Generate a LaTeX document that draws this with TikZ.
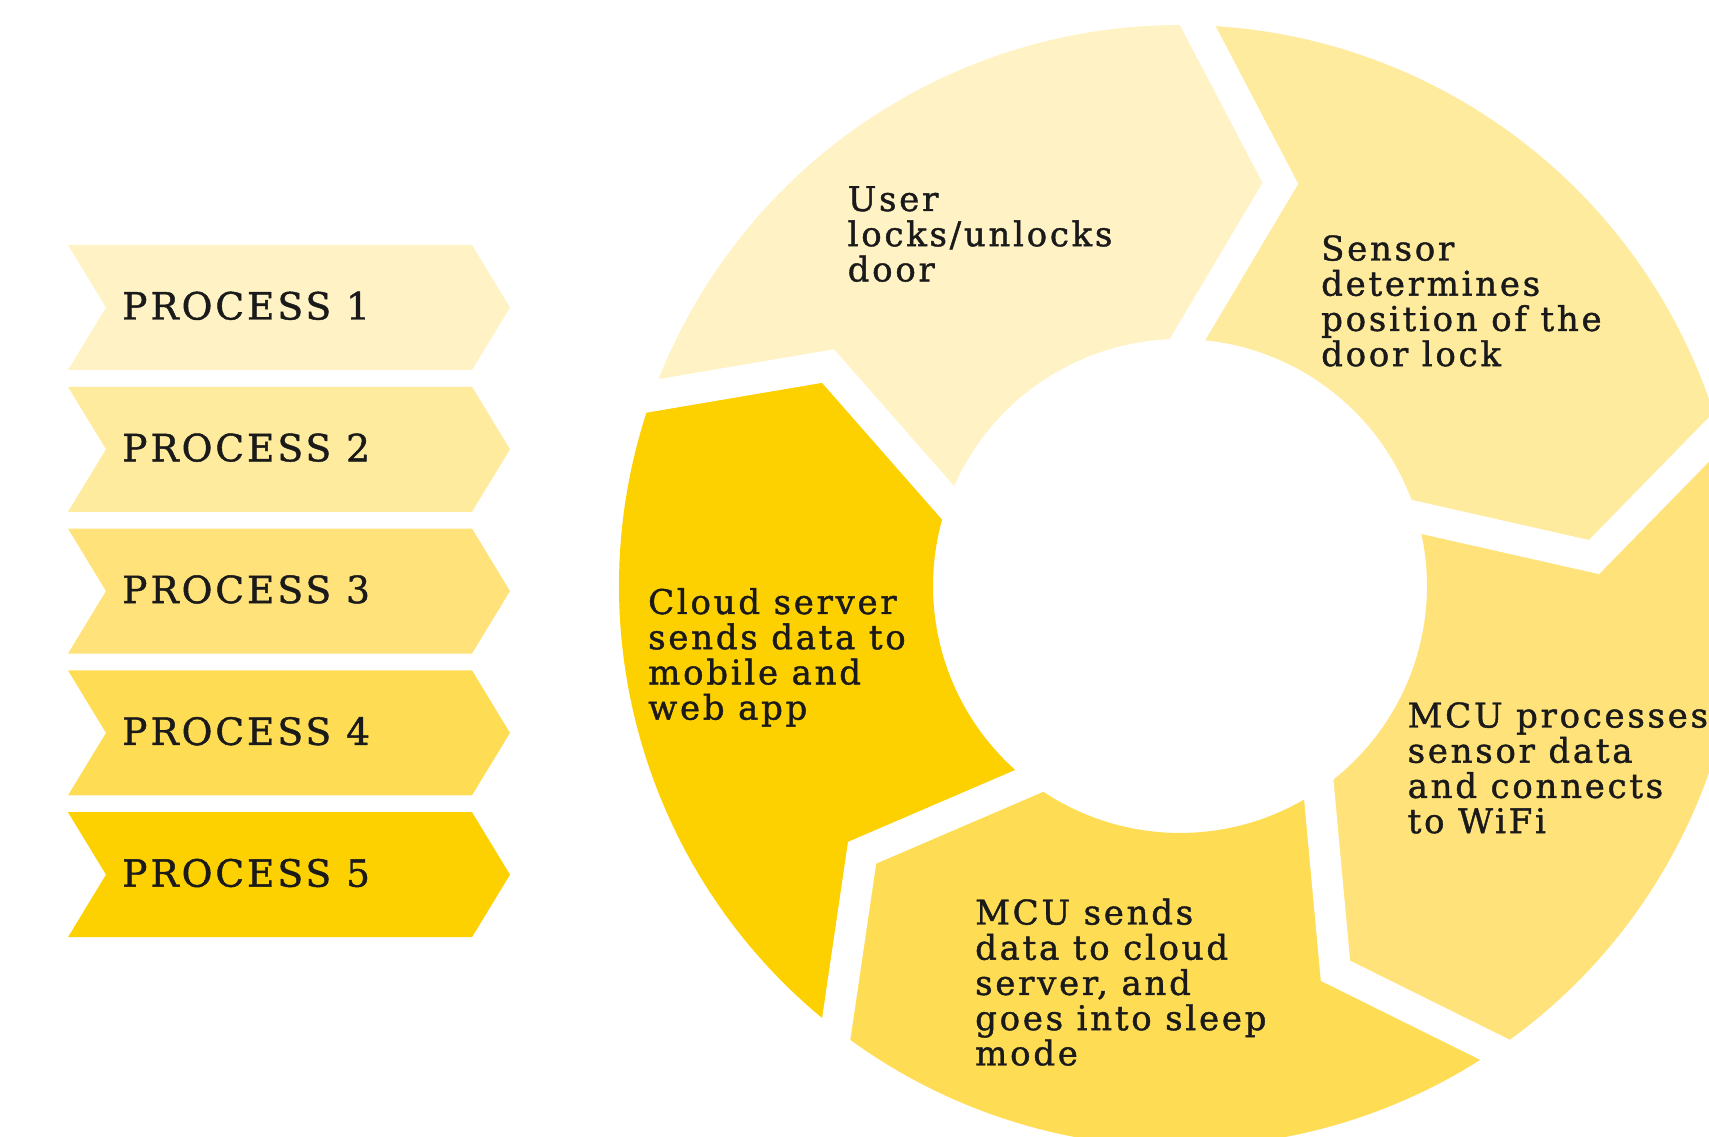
\documentclass[tikz,border=0pt]{standalone}
\usepackage{fontspec}
\newfontfamily\slab[LetterSpace=8,FakeBold=1.2]{DejaVu Serif}
\definecolor{cA}{HTML}{FFF3C6}
\definecolor{cB}{HTML}{FFEB9E}
\definecolor{cC}{HTML}{FFE37A}
\definecolor{cD}{HTML}{FEDD55}
\definecolor{cE}{HTML}{FDD000}
\definecolor{txt}{HTML}{1A1A1A}
\begin{document}
\begin{tikzpicture}[x=1pt,y=1pt,
  lbl/.style={inner sep=0pt, anchor=base west, align=left, text=txt,
    font=\slab\fontsize{34}{35.2}\selectfont},
  plbl/.style={inner sep=0pt, anchor=base west, text=txt,
    font=\slab\fontsize{37.5}{40}\selectfont},
  gap/.style={white, line width=31pt, line cap=rect, line join=miter}]
\useasboundingbox (0,0) rectangle (1709,1137);
\clip (0,0) rectangle (1709,1137);
\fill[white] (0,0) rectangle (1709,1137);

% left banners
\foreach \k/\c in {0/cA,1/cB,2/cC,3/cD,4/cE}{
  \pgfmathsetmacro\T{1137-245-141.8*\k}
  \fill[\c] (68,\T) -- (472,\T) -- (510,\T-62.5) -- (472,\T-125) -- (68,\T-125) -- (106,\T-62.5) -- cycle;
}
\foreach \k in {0,...,4}{
  \pgfmathsetmacro\B{1137-245-141.8*\k-74.5}
  \pgfmathtruncatemacro\n{\k+1}
  \node[plbl] (p\n) at (122,\B) {PROCESS \n};
}

% ring (segment k runs clockwise from angle a to a-72)
\begin{scope}[shift={(1180,551)}]
  \foreach \k/\c in {0/cB,1/cC,2/cD,3/cE,4/cA}{
    \pgfmathsetmacro\a{88.2-72*\k}
    \pgfmathsetmacro\b{\a-72}
    \fill[\c] (\a:561) arc[start angle=\a, end angle=\b, radius=561]
      -- (\b-12.2:415) -- (\b:247) arc[start angle=\b, end angle=\a, radius=247]
      -- (\a-12.2:415) -- cycle;
  }
  \foreach \k in {0,...,4}{
    \pgfmathsetmacro\a{88.2-72*\k}
    \draw[gap] (\a:561) -- (\a-12.2:415) -- (\a:247);
  }
\end{scope}

% multi-line nodes: base anchor sits on the last line's baseline
\node[lbl] (user) at (847.5,855.6) {User\\locks/unlocks\\door};
\node[lbl] (sensor) at (1321,770.9) {Sensor\\determines\\position of the\\door lock};
\node[lbl] (mcup) at (1407.5,303.9) {MCU processes\\sensor data\\and connects\\to WiFi};
\node[lbl] (mcus) at (975,71.7) {MCU sends\\data to cloud\\server, and\\goes into sleep\\mode};
\node[lbl] (cloud) at (648,417.4) {Cloud server\\sends data to\\mobile and\\web app};
\end{tikzpicture}
\end{document}
